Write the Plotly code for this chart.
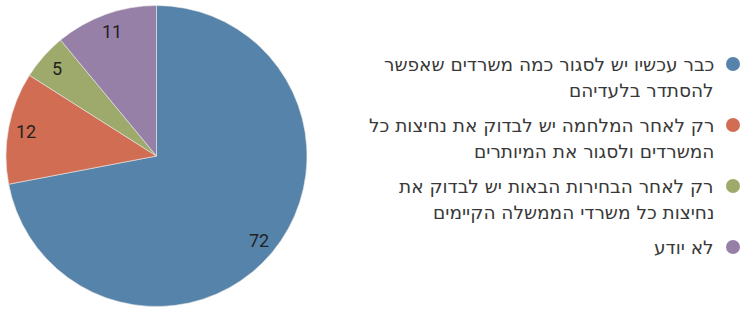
import math
import plotly.graph_objects as go

categories = [
    ["כבר עכשיו יש לסגור כמה משרדים שאפשר", "להסתדר בלעדיהם"],
    ["רק לאחר המלחמה יש לבדוק את נחיצות כל", "המשרדים ולסגור את המיותרים"],
    ["רק לאחר הבחירות הבאות יש לבדוק את", "נחיצות כל משרדי הממשלה הקיימים"],
    ["לא יודע"],
]
values = [72, 12, 5, 11]
colors = ["#5683aa", "#d16d52", "#9eaa6c", "#9680a8"]

W, H = 741, 309
CX, CY, R = 156.5, 156.0, 150.5

fig = go.Figure()
fig.add_trace(go.Pie(
    labels=[" ".join(c) for c in categories],
    values=values,
    sort=False,
    direction="clockwise",
    rotation=0,
    marker=dict(colors=colors, line=dict(color="#e8e8e8", width=0.6)),
    textinfo="none",
    domain=dict(x=[(CX - R) / W, (CX + R) / W], y=[(H - CY - R) / H, (H - CY + R) / H]),
    showlegend=False,
    hoverinfo="label+value",
))

# value labels placed along each slice's middle angle
total = sum(values)
cum = 0
for v in values:
    mid = (cum + v / 2) / total * 2 * math.pi
    cum += v
    rr = 0.88 * R
    fig.add_annotation(
        x=CX + rr * math.sin(mid), y=CY - rr * math.cos(mid), xref="x", yref="y",
        text=str(v), showarrow=False, xanchor="center", yanchor="middle",
        font=dict(family="Liberation Sans Narrow, Roboto, sans-serif", size=18, color="#222222"),
    )

# custom right-to-left legend
line_h = 26
gap = 35
y = 64
mx, my = [], []
for i, lines in enumerate(categories):
    mx.append(733)
    my.append(y)
    for j, ln in enumerate(lines):
        fig.add_annotation(
            x=716, y=y + j * line_h, xref="x", yref="y",
            xanchor="right", yanchor="middle", align="right",
            text=ln, showarrow=False,
            font=dict(family="DejaVu Sans, sans-serif", size=18.5, color="#383838"),
        )
    y += (len(lines) - 1) * line_h + gap

fig.add_trace(go.Scatter(
    x=mx, y=my, mode="markers",
    marker=dict(color=colors, size=14),
    showlegend=False, hoverinfo="skip",
))

fig.update_layout(
    width=W, height=H,
    margin=dict(l=0, r=0, t=0, b=0),
    paper_bgcolor="white", plot_bgcolor="rgba(0,0,0,0)",
    xaxis=dict(range=[0, W], visible=False, fixedrange=True),
    yaxis=dict(range=[H, 0], visible=False, fixedrange=True),
)
fig.write_html("out.html", config={"displayModeBar": False},
               post_script="document.body.style.margin='0';")
